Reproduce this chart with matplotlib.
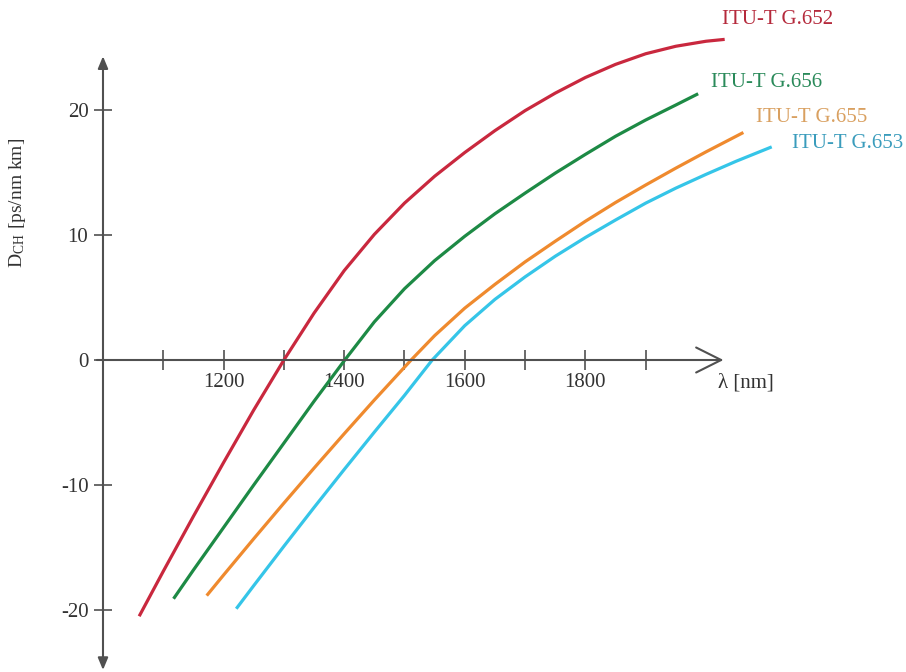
import matplotlib.pyplot as plt

plt.rcParams['font.family'] = ['Liberation Serif', 'DejaVu Serif']
plt.rcParams['mathtext.fontset'] = 'stix'

# wavelength [nm] / dispersion [ps/(nm km)]
g652_x = [1060, 1100, 1150, 1200, 1250, 1300, 1350, 1400, 1450, 1500, 1550, 1600, 1650,
          1700, 1750, 1800, 1850, 1900, 1950, 2000, 2031]
g652_y = [-20.5, -16.9, -12.5, -8.2, -4.0, 0, 3.75, 7.15, 10.05, 12.55, 14.7, 16.6, 18.35,
          19.95, 21.35, 22.6, 23.65, 24.5, 25.1, 25.5, 25.65]

g656_x = [1117, 1150, 1200, 1250, 1300, 1350, 1401, 1450, 1500, 1550, 1600, 1650, 1700,
          1750, 1800, 1850, 1900, 1950, 1987]
g656_y = [-19.1, -16.8, -13.4, -10.0, -6.65, -3.3, 0, 3.05, 5.7, 7.95, 9.9, 11.7, 13.35,
          14.95, 16.45, 17.9, 19.2, 20.4, 21.3]

g655_x = [1172, 1200, 1250, 1300, 1350, 1400, 1450, 1511, 1550, 1600, 1650, 1700, 1750,
          1800, 1850, 1900, 1950, 2000, 2062]
g655_y = [-18.85, -17.2, -14.3, -11.45, -8.65, -5.9, -3.2, 0, 1.95, 4.15, 6.05, 7.85, 9.5,
          11.1, 12.6, 14.0, 15.35, 16.65, 18.2]

g653_x = [1221, 1250, 1300, 1350, 1400, 1450, 1500, 1546, 1600, 1650, 1700, 1750, 1800,
          1850, 1900, 1950, 2000, 2050, 2109]
g653_y = [-19.9, -18.05, -14.9, -11.8, -8.76, -5.77, -2.83, 0, 2.75, 4.85, 6.65, 8.3, 9.8,
          11.2, 12.55, 13.75, 14.85, 15.9, 17.05]

names = ['ITU-T G.652', 'ITU-T G.656', 'ITU-T G.655', 'ITU-T G.653']
line_colors = ['#c9283e', '#1d8a45', '#ef8a2e', '#35c5e8']
text_colors = ['#b52a3c', '#2a8a5a', '#d9a060', '#3a9cbc']
label_pos = [(2026, 27.2), (2008, 22.2), (2083, 19.4), (2143, 17.3)]

fig = plt.figure(figsize=(9.06, 6.72), dpi=100)
ax = fig.add_axes([0, 0, 1, 1])
ax.set_xlim(829.2, 2331.7)
ax.set_ylim(-24.96, 28.8)

series = [(g652_x, g652_y), (g656_x, g656_y), (g655_x, g655_y), (g653_x, g653_y)]
for (xs, ys), c, tc, name, pos in zip(series, line_colors, text_colors, names, label_pos):
    ax.plot(xs, ys, color=c, lw=2.3, solid_capstyle='butt', solid_joinstyle='round')
    ax.text(pos[0], pos[1], name, color=tc, fontsize=15, ha='left', va='center')

axis_col = '#505050'
ax.annotate('', xy=(2029, 0), xytext=(990, 0),
            arrowprops=dict(arrowstyle='->,head_length=0.9,head_width=0.45',
                            lw=1.5, color=axis_col, shrinkA=0, shrinkB=0, mutation_scale=20))
ax.annotate('', xy=(1000, 24.3), xytext=(1000, -24.8),
            arrowprops=dict(arrowstyle='<|-|>,head_length=0.6,head_width=0.25',
                            lw=1.5, color=axis_col, shrinkA=0, shrinkB=0, mutation_scale=12))

for s in ax.spines.values():
    s.set_visible(False)
ax.spines['left'].set_position(('data', 1000))
ax.spines['bottom'].set_position(('data', 0))

ax.set_xticks([1200, 1400, 1600, 1800])
ax.set_xticks([1100, 1300, 1500, 1700, 1900], minor=True)
ax.set_yticks([-20, -10, 0, 10, 20])
ax.tick_params(axis='x', which='both', direction='inout', length=15, width=1.2,
               color=axis_col, labelsize=15, labelcolor='#333333', pad=2)
ax.tick_params(axis='y', direction='inout', length=13, width=1.2,
               color=axis_col, labelsize=15, labelcolor='#333333', pad=4)
ax.set_yticklabels(['-20', '-10', '0', '10', '20'])

ax.text(2020, -1.85, 'λ [nm]', fontsize=15, color='#333333', ha='left', va='center')
ax.text(18 / 0.603 + 829.2, 12.6, r'D$_{\mathregular{CH}}$ [ps/nm km]', fontsize=14,
        color='#333333', rotation=90, ha='center', va='center')

fig.savefig('out.png', dpi=100)
